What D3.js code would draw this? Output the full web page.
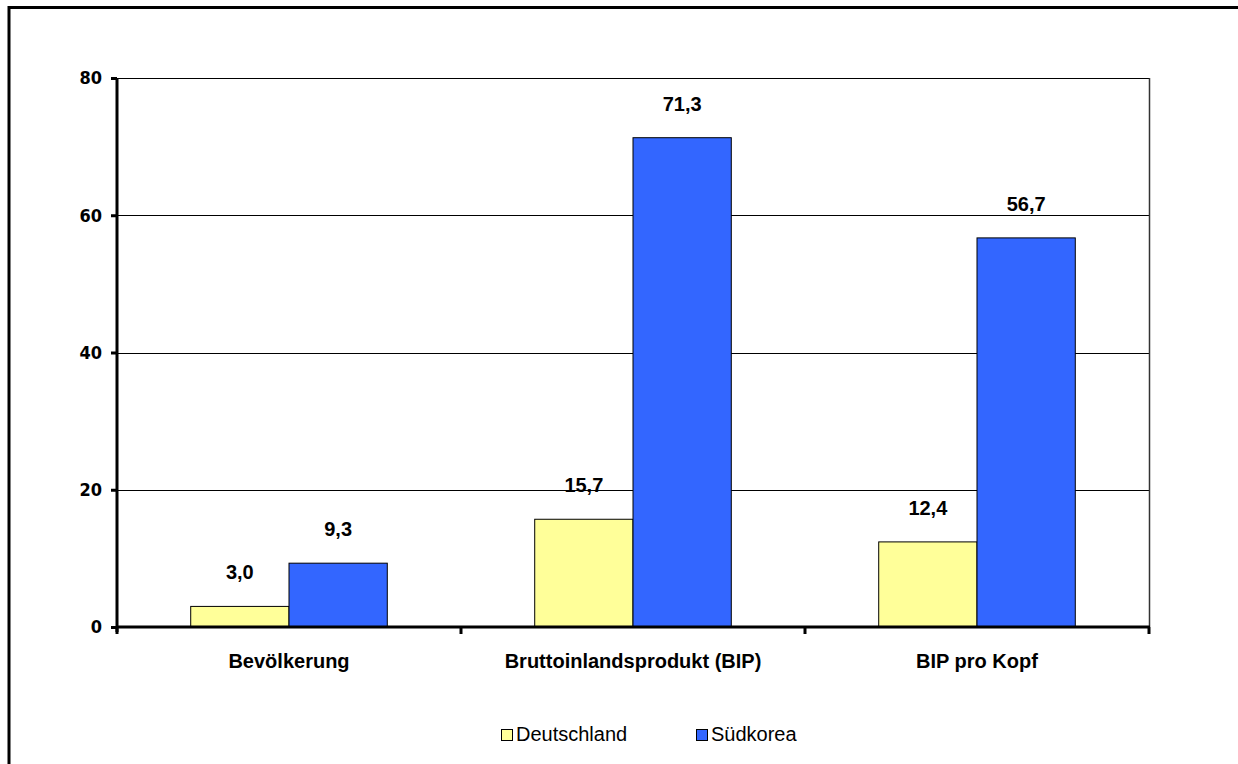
<!DOCTYPE html>
<html>
<head>
<meta charset="utf-8">
<script src="https://cdn.jsdelivr.net/npm/d3@7"></script>
<style>
  html, body { margin: 0; padding: 0; background: #fff; }
  svg { display: block; }
</style>
</head>
<body>
<svg id="chart" width="1238" height="764"></svg>
<script>
// Categories, series and axis ticks
const categories = ["Bevölkerung", "Bruttoinlandsprodukt (BIP)", "BIP pro Kopf"];
const seriesNames = ["Deutschland", "Südkorea"];
const deutschland = [3.0, 15.7, 12.4];
const suedkorea = [9.3, 71.3, 56.7];
const yTicks = [0, 20, 40, 60, 80];

const colors = { "Deutschland": "#FFFF99", "Südkorea": "#3366FF" };
const seriesValues = { "Deutschland": deutschland, "Südkorea": suedkorea };

const svg = d3.select("#chart");
const plot = { left: 117, top: 78, right: 1149, bottom: 627 };

const fmt = v => d3.format(".1f")(v).replace(".", ",");

// Outer frame (left and top edges)
svg.append("path")
  .attr("d", "M9,764 V7.5 H1238")
  .attr("fill", "none")
  .attr("stroke", "#000")
  .attr("stroke-width", 3);

const x0 = d3.scaleBand().domain(categories).range([plot.left, plot.right]).paddingInner(0).paddingOuter(0);
// gap width of 150%: half a gap on each side of the two bars
const x1 = d3.scaleBand().domain(seriesNames).range([0, x0.bandwidth()]).paddingInner(0).paddingOuter(0.75);
const y = d3.scaleLinear().domain([0, 80]).range([plot.bottom, plot.top]);

// Gridlines
svg.append("g")
  .selectAll("line")
  .data(yTicks.filter(t => t > 0))
  .join("line")
  .attr("x1", plot.left).attr("x2", plot.right)
  .attr("y1", d => Math.round(y(d)) + 0.5).attr("y2", d => Math.round(y(d)) + 0.5)
  .attr("stroke", "#000").attr("stroke-width", 1);

// Right edge of plot area
svg.append("line")
  .attr("x1", plot.right + 0.5).attr("x2", plot.right + 0.5)
  .attr("y1", plot.top).attr("y2", plot.bottom)
  .attr("stroke", "#333").attr("stroke-width", 1.5);

// Bars
const groups = svg.append("g")
  .selectAll("g")
  .data(categories)
  .join("g")
  .attr("transform", d => `translate(${x0(d)},0)`);

groups.selectAll("rect")
  .data((c, i) => seriesNames.map(s => ({ s, v: seriesValues[s][i] })))
  .join("rect")
  .attr("x", d => x1(d.s))
  .attr("width", x1.bandwidth())
  .attr("y", d => y(d.v))
  .attr("height", d => y(0) - y(d.v))
  .attr("fill", d => colors[d.s])
  .attr("stroke", "#000")
  .attr("stroke-width", 1);

// Value labels
groups.selectAll("text")
  .data((c, i) => seriesNames.map(s => ({ s, v: seriesValues[s][i] })))
  .join("text")
  .attr("x", d => x1(d.s) + x1.bandwidth() / 2)
  .attr("y", d => y(d.v) - 27)
  .attr("text-anchor", "middle")
  .attr("font-family", "Liberation Sans, Arial, sans-serif")
  .attr("font-weight", "bold")
  .attr("font-size", 20)
  .text(d => fmt(d.v));

// Y axis
const yAxis = svg.append("g")
  .attr("transform", `translate(${plot.left},0)`)
  .call(d3.axisLeft(y).tickValues(yTicks).tickSize(6).tickPadding(9).tickFormat(d3.format("d")));
yAxis.select(".domain").attr("stroke", "#000").attr("stroke-width", 3)
  .attr("d", `M0,${plot.top}V${plot.bottom + 5}`);
yAxis.selectAll(".tick line").attr("stroke", "#000").attr("stroke-width", 3);
yAxis.selectAll(".tick text")
  .attr("font-family", "DejaVu Sans Condensed, DejaVu Sans, sans-serif")
  .attr("font-weight", "bold")
  .attr("font-size", 18)
  .attr("fill", "#000");

// X axis with ticks at category boundaries
const xAxis = svg.append("g").attr("transform", `translate(0,${plot.bottom})`);
xAxis.append("line")
  .attr("x1", plot.left).attr("x2", plot.right + 1)
  .attr("stroke", "#000").attr("stroke-width", 3);
const boundaries = categories.map(c => x0(c)).concat([x0(categories[categories.length - 1]) + x0.bandwidth()]);
xAxis.selectAll("line.tk")
  .data(boundaries)
  .join("line")
  .attr("class", "tk")
  .attr("x1", d => d).attr("x2", d => d)
  .attr("y1", 0).attr("y2", 7)
  .attr("stroke", "#000").attr("stroke-width", 3);
xAxis.selectAll("text")
  .data(categories)
  .join("text")
  .attr("x", d => x0(d) + x0.bandwidth() / 2)
  .attr("y", 41)
  .attr("text-anchor", "middle")
  .attr("font-family", "Liberation Sans, Arial, sans-serif")
  .attr("font-weight", "bold")
  .attr("font-size", 20)
  .text(d => d);

// Legend
const legendItems = [
  { name: seriesNames[0], x: 501 },
  { name: seriesNames[1], x: 696 }
];
const legend = svg.append("g").attr("transform", "translate(0,729)");
legend.selectAll("rect")
  .data(legendItems)
  .join("rect")
  .attr("x", d => d.x + 0.5).attr("y", 0.5)
  .attr("width", 11).attr("height", 11)
  .attr("fill", d => colors[d.name])
  .attr("stroke", "#000").attr("stroke-width", 1);
legend.selectAll("text")
  .data(legendItems)
  .join("text")
  .attr("x", d => d.x + 15)
  .attr("y", 12)
  .attr("font-family", "Liberation Sans, Arial, sans-serif")
  .attr("font-size", 20)
  .text(d => d.name);
</script>
</body>
</html>
